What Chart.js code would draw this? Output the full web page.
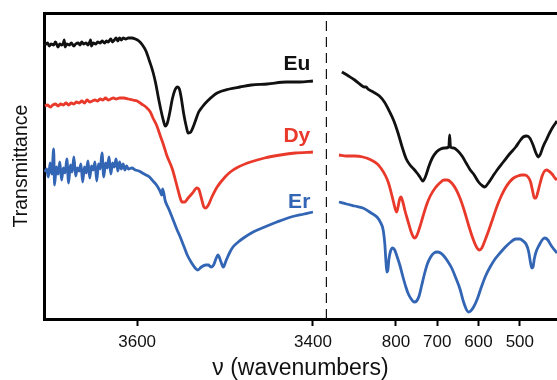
<!DOCTYPE html>
<html>
<head>
<meta charset="utf-8">
<script src="https://cdn.jsdelivr.net/npm/chart.js@4.4.1/dist/chart.umd.min.js"></script>
<style>
  html, body { margin: 0; padding: 0; background: #fff; }
  #chart { display: block; }
</style>
</head>
<body>
<canvas id="chart" width="557" height="380"></canvas>
<script>
// IR spectra, wavenumber (cm-1) vs transmittance (offset, arbitrary units)
// left panel: O-H region, right panel: fingerprint region

const euHighWn = [3705, 3702, 3700, 3698, 3695, 3693, 3690, 3688, 3686, 3684, 3683, 3682, 3680, 3677, 3675,
  3672, 3670, 3667, 3665, 3663, 3661, 3658, 3656, 3654, 3653, 3652, 3650, 3647, 3645, 3642,
  3640, 3637, 3635, 3633, 3630, 3628, 3626, 3624, 3622, 3620, 3618, 3616, 3613, 3610,
  3606, 3602, 3598, 3594, 3590, 3586, 3582, 3579, 3576, 3573, 3570, 3568, 3566, 3563, 3560,
  3557, 3554, 3552, 3550, 3547, 3544, 3542, 3539, 3535, 3530, 3526, 3520, 3509, 3495, 3483,
  3470, 3452, 3430, 3415, 3400];
const euHighT = [274, 276, 273, 275, 274, 277, 272, 275, 274, 276, 279, 272, 275, 274, 276,
  273, 275, 276, 274, 277, 275, 276, 274, 277, 279, 273, 276, 275, 277, 276,
  278, 276, 278, 277, 280, 277, 279, 281, 278, 281, 279, 281, 280, 281,
  281, 280, 278, 274, 268, 258, 247, 236, 222, 209, 198, 193, 195, 206, 220,
  229, 232, 230, 222, 205, 192, 186, 187, 195, 207, 212, 218, 226, 230, 232,
  234, 235, 237, 237, 238];

const dyHighWn = [3705, 3702, 3699, 3696, 3693, 3690, 3687, 3684, 3681, 3678, 3675, 3672, 3669, 3666, 3663,
  3660, 3657, 3654, 3651, 3648, 3645, 3642, 3639, 3636, 3633, 3630, 3627, 3624, 3620, 3615,
  3610, 3605, 3600, 3595, 3590, 3585, 3582, 3578, 3574, 3570, 3566, 3560, 3555, 3551, 3549,
  3546, 3542, 3537, 3532, 3530, 3527, 3524, 3522, 3519, 3515, 3509, 3500, 3494, 3485, 3471,
  3455, 3437, 3420, 3400];
const dyHighT = [213, 214, 212, 214, 215, 213, 215, 214, 216, 214, 216, 215, 217, 216, 218,
  216, 219, 217, 218, 219, 218, 220, 219, 221, 219, 220, 221, 220, 221, 221,
  220, 219, 218, 215, 212, 207, 201, 194, 184, 174, 163, 150, 134, 121, 117,
  117, 121, 126, 131, 130, 121, 112, 111, 114, 122, 132, 142, 147, 152, 157,
  161, 164, 166, 167];

const erHighWn = [3705, 3703, 3701, 3699, 3697, 3695, 3694, 3692, 3690, 3688, 3686, 3684, 3682, 3680, 3678,
  3676, 3674, 3672, 3670, 3668, 3666, 3664, 3662, 3660, 3658, 3656, 3654, 3652, 3650, 3648,
  3646, 3644, 3642, 3640, 3638, 3636, 3634, 3632, 3630, 3628, 3626, 3624, 3622, 3620, 3618,
  3616, 3614, 3612, 3610,
  3606, 3602, 3598, 3594, 3590, 3586, 3582, 3578, 3574, 3572, 3571, 3568, 3564, 3559, 3555,
  3551, 3547, 3543, 3538, 3533, 3531, 3527, 3522, 3519, 3516, 3513, 3510, 3508, 3505, 3502,
  3499, 3495, 3491, 3485, 3479, 3468, 3455, 3441, 3425, 3410, 3400];
const erHighT = [147, 150, 142, 156, 145, 170, 134, 152, 145, 157, 139, 151, 146, 160, 136,
  154, 147, 162, 143, 151, 148, 155, 137, 152, 146, 158, 141, 153, 149, 157,
  138, 155, 150, 166, 142, 156, 151, 162, 145, 156, 152, 160, 148, 157, 150,
  155, 149, 153, 150,
  151, 149, 148, 146, 144, 142, 138, 134, 128, 124, 130, 118, 110, 99, 90,
  82, 73, 64, 56, 50, 49, 52, 54, 54, 52, 54, 61, 64, 58, 52,
  58, 66, 72, 77, 81, 87, 92, 97, 102, 105, 107];

const euLowWn = [931, 915, 900, 885, 877, 872, 868, 855, 840, 828, 815, 805, 795, 785, 775,
  766, 757, 749, 742, 735, 728, 720, 712, 702, 692, 682, 672, 670, 668, 660,
  650, 640, 630, 620, 612, 600, 590, 585, 578, 565, 555, 540, 525, 510, 500,
  492, 483, 476, 468, 462, 455, 450, 444, 436, 428, 420, 410];
const euLowT = [247, 243, 239, 234, 232, 232, 230, 227, 223, 217, 207, 198, 186, 172, 160,
  154, 150, 146, 142, 138, 143, 153, 161, 167, 170, 171, 172, 184, 172, 171,
  168, 163, 156, 149, 145, 137, 133, 132, 135, 143, 149, 157, 165, 172, 178,
  182, 183, 181, 174, 167, 162, 165, 172, 179, 186, 192, 198];

const dyLowWn = [938, 920, 900, 880, 860, 845, 835, 825, 818, 812, 806, 801, 798, 795, 791,
  788, 784, 778, 771, 764, 758, 755, 750, 743, 735, 726, 717, 705, 694, 684,
  676, 665, 655, 645, 635, 625, 615, 605, 598, 592, 584, 575, 565, 555, 545,
  535, 525, 515, 505, 495, 488, 480, 474, 469, 465, 461, 457, 452, 446, 440,
  435, 430, 422, 415, 410];
const dyLowT = [164, 163, 163, 162, 159, 155, 150, 143, 136, 127, 117, 109, 107, 112, 120,
  122, 118, 108, 98, 88, 82, 81, 83, 91, 102, 114, 123, 131, 136, 139,
  139, 136, 130, 121, 109, 95, 82, 72, 69, 71, 79, 89, 101, 113, 123,
  131, 137, 141, 143, 144, 144, 142, 137, 128, 121, 121, 126, 134, 143, 148,
  149, 148, 145, 141, 139];

const erLowWn = [938, 920, 900, 880, 860, 846, 838, 831, 827, 824, 822, 820, 817, 813, 808,
  803, 797, 790, 783, 776, 770, 763, 756, 750, 744, 738, 731, 724, 716, 708,
  700, 692, 684, 675, 665, 655, 645, 637, 630, 625, 619, 612, 603, 594, 583,
  572, 560, 548, 535, 522, 510, 500, 492, 485, 479, 474, 471, 468, 465, 460,
  453, 446, 440, 432, 425, 418, 410];
const erLowT = [117, 115, 113, 111, 106, 102, 97, 89, 75, 56, 47, 48, 60, 68, 71,
  69, 62, 53, 42, 32, 25, 20, 17, 18, 23, 33, 45, 55, 62, 66,
  67, 66, 63, 58, 51, 41, 30, 18, 10, 7, 8, 12, 20, 31, 43,
  52, 60, 66, 72, 77, 80, 80, 78, 75, 68, 56, 51, 52, 60, 68,
  74, 79, 81, 79, 74, 70, 66];

const highTicks = [3600, 3400];
const lowTicks = [800, 700, 600, 500];
const breakWn = 3384;               // dashed axis break
const seriesNames = ['Eu', 'Dy', 'Er'];
const labelWn = [3403, 3403, 3403];
const labelT = [249, 177, 111];
const xTitle = 'ν (wavenumbers)';
const yTitle = 'Transmittance';

const seriesColors = ['#111111', '#e8392b', '#3365b5'];
const fontFamily = '"Liberation Sans", Arial, Helvetica, sans-serif';
Chart.defaults.font.family = fontFamily;
Chart.defaults.color = '#111';

function toPoints(wn, t) {
  return wn.map((w, i) => ({ x: w, y: t[i] }));
}

function lineSet(wn, t, color, axis) {
  return {
    data: toPoints(wn, t),
    xAxisID: axis,
    borderColor: color,
    borderWidth: 2.8,
    pointRadius: 0,
    cubicInterpolationMode: 'monotone',
    fill: false
  };
}

const datasets = [
  lineSet(euHighWn, euHighT, seriesColors[0], 'xl'),
  lineSet(dyHighWn, dyHighT, seriesColors[1], 'xl'),
  lineSet(erHighWn, erHighT, seriesColors[2], 'xl'),
  lineSet(euLowWn, euLowT, seriesColors[0], 'xr'),
  lineSet(dyLowWn, dyLowT, seriesColors[1], 'xr'),
  lineSet(erLowWn, erLowT, seriesColors[2], 'xr'),
  {
    data: [{ x: breakWn, y: 0 }, { x: breakWn, y: 306 }],
    xAxisID: 'xl',
    borderColor: '#111',
    borderWidth: 2.4,
    borderDash: [10, 6],
    pointRadius: 0
  }
];

// element symbols next to each trace
const labelPlugin = {
  id: 'seriesLabels',
  afterDatasetsDraw(chart) {
    const { ctx, scales } = chart;
    ctx.save();
    ctx.font = 'bold 21px ' + fontFamily;
    ctx.textAlign = 'right';
    ctx.textBaseline = 'alphabetic';
    seriesNames.forEach((name, i) => {
      ctx.fillStyle = seriesColors[i];
      ctx.fillText(name, scales.xl.getPixelForValue(labelWn[i]), scales.y.getPixelForValue(labelT[i]));
    });
    ctx.restore();
  }
};

// no extra side padding for the tick labels, the plot runs to the right edge
function noSidePadding(scale) {
  scale.paddingLeft = 0;
  scale.paddingRight = 0;
}

function xAxis(min, max, ticks, weight) {
  return {
    type: 'linear',
    position: 'bottom',
    stack: 'wn',
    stackWeight: weight,
    min: min,
    max: max,
    reverse: true,
    afterBuildTicks(scale) { scale.ticks = ticks.map(v => ({ value: v })); },
    afterFit(scale) {
      scale.height = 38;
      noSidePadding(scale);
    },
    ticks: {
      color: '#111',
      font: { size: 17 },
      padding: 6,
      maxRotation: 0,
      autoSkip: false,
      callback: v => String(v)
    },
    grid: { drawOnChartArea: false, drawTicks: true, tickLength: 7, tickWidth: 2, tickColor: '#000' },
    border: { width: 3, color: '#000' }
  };
}

new Chart(document.getElementById('chart'), {
  type: 'line',
  data: { datasets: datasets },
  options: {
    responsive: false,
    animation: false,
    devicePixelRatio: 1,
    layout: { padding: { top: 13, left: 0, right: 0, bottom: 0 } },
    plugins: {
      legend: { display: false },
      tooltip: { enabled: false },
      title: {
        display: true,
        position: 'bottom',
        fullSize: false,
        text: xTitle,
        color: '#111',
        font: { size: 23, weight: 'normal', lineHeight: 1 },
        padding: { top: 0, bottom: 0 }
      }
    },
    scales: {
      y: {
        min: 0,
        max: 306,
        afterFit(scale) { scale.width = 44; },
        ticks: { display: false },
        grid: { display: false, drawTicks: false },
        border: { width: 3, color: '#000' },
        title: { display: true, text: yTitle, color: '#111', font: { size: 19.5 }, padding: { top: 10, bottom: 0 } }
      },
      xl: xAxis(breakWn, 3706, highTicks, 283),
      xr: xAxis(410, 967, lowTicks, 230),
      xt: {
        type: 'linear',
        position: 'top',
        min: 0,
        max: 1,
        afterFit(scale) {
          scale.height = 0;
          noSidePadding(scale);
        },
        ticks: { display: false },
        grid: { display: false, drawTicks: false },
        border: { width: 3, color: '#000' }
      }
    }
  },
  plugins: [labelPlugin]
});
</script>
</body>
</html>
